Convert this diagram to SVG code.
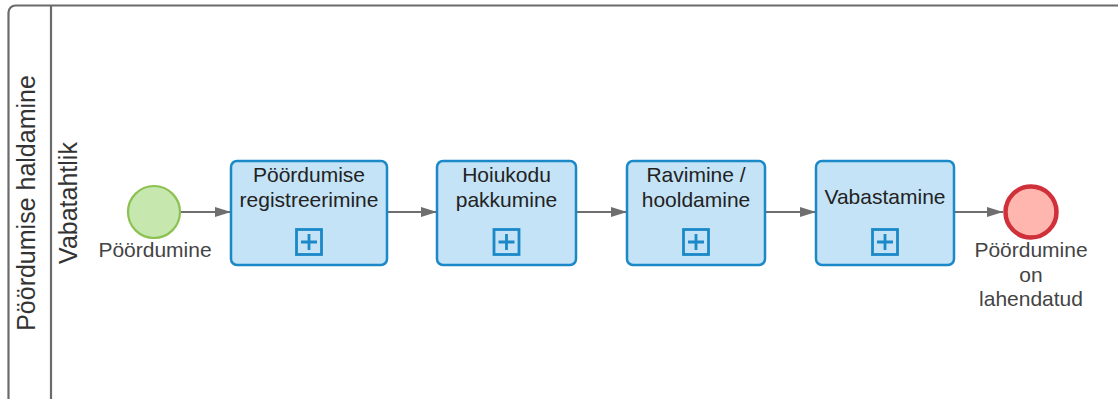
<svg xmlns="http://www.w3.org/2000/svg" width="1118" height="399" viewBox="0 0 1118 399">
  <style>
    text { font-family: "Liberation Sans", Arial, sans-serif; }
    .pool { fill: #ffffff; stroke: #6b6b6b; stroke-width: 2.2; }
    .lane-line { stroke: #6b6b6b; stroke-width: 2.2; }
    .title { font-size: 25px; fill: #333333; }
    .task rect.box { fill: #c4e3f6; stroke: #1b88c8; stroke-width: 2.5; }
    .task text { font-size: 21px; fill: #222222; text-anchor: middle; }
    .label { font-size: 21px; fill: #444444; text-anchor: middle; }
    .flow { stroke: #6e6e6e; stroke-width: 2; fill: none; marker-end: url(#arrow); }
  </style>
  <defs>
    <marker id="arrow" viewBox="0 0 16 10" refX="16" refY="5" markerWidth="16" markerHeight="10" markerUnits="userSpaceOnUse" orient="auto">
      <path d="M0,0 L16,5 L0,10 Z" fill="#6e6e6e"/>
    </marker>
    <!-- collapsed sub-process "+" marker -->
    <g id="subprocess-marker" fill="none" stroke="#1b88c8" stroke-width="2.8">
      <rect x="-12.5" y="-12.5" width="25" height="25"/>
      <path d="M-8,0 H8 M0,-8 V8"/>
    </g>
  </defs>

  <!-- Pool and lane -->
  <g id="pool">
    <rect class="pool" x="8.5" y="5.5" width="1130" height="420" rx="7"/>
    <line class="lane-line" x1="51" y1="5.5" x2="51" y2="405"/>
    <text class="title" transform="translate(35,203) rotate(-90)" text-anchor="middle">Pöördumise haldamine</text>
  </g>
  <g id="lane">
    <text class="title" transform="translate(77,203) rotate(-90)" text-anchor="middle">Vabatahtlik</text>
  </g>

  <!-- Sequence flows -->
  <g id="connectors">
    <line class="flow" x1="181" y1="212" x2="231" y2="212"/>
    <line class="flow" x1="387" y1="212" x2="437" y2="212"/>
    <line class="flow" x1="576" y1="212" x2="627" y2="212"/>
    <line class="flow" x1="765" y1="212" x2="816" y2="212"/>
    <line class="flow" x1="954" y1="212" x2="1003" y2="212"/>
  </g>

  <!-- Start event -->
  <g id="start">
    <circle cx="154" cy="212" r="26" fill="#c6e7ae" stroke="#8cc152" stroke-width="2.2"/>
    <text class="label" x="155" y="257">Pöördumine</text>
  </g>

  <!-- Sub-processes -->
  <g id="task1" class="task">
    <rect class="box" x="231" y="161" width="156" height="104" rx="6"/>
    <text x="309" y="182">Pöördumise</text>
    <text x="309" y="207">registreerimine</text>
    <use href="#subprocess-marker" x="309" y="242"/>
  </g>
  <g id="task2" class="task">
    <rect class="box" x="437" y="161" width="139" height="104" rx="6"/>
    <text x="506.5" y="182">Hoiukodu</text>
    <text x="506.5" y="207">pakkumine</text>
    <use href="#subprocess-marker" x="506.5" y="242"/>
  </g>
  <g id="task3" class="task">
    <rect class="box" x="627" y="161" width="138" height="104" rx="6"/>
    <text x="696" y="182">Ravimine /</text>
    <text x="696" y="207">hooldamine</text>
    <use href="#subprocess-marker" x="696" y="242"/>
  </g>
  <g id="task4" class="task">
    <rect class="box" x="816" y="161" width="138" height="104" rx="6"/>
    <text x="885" y="204">Vabastamine</text>
    <use href="#subprocess-marker" x="885" y="242"/>
  </g>

  <!-- End event -->
  <g id="end">
    <circle cx="1031" cy="212" r="25.5" fill="#ffb6ae" stroke="#d0303a" stroke-width="4.5"/>
    <text class="label" x="1031" y="257">Pöördumine</text>
    <text class="label" x="1031" y="282">on</text>
    <text class="label" x="1031" y="306">lahendatud</text>
  </g>
</svg>
